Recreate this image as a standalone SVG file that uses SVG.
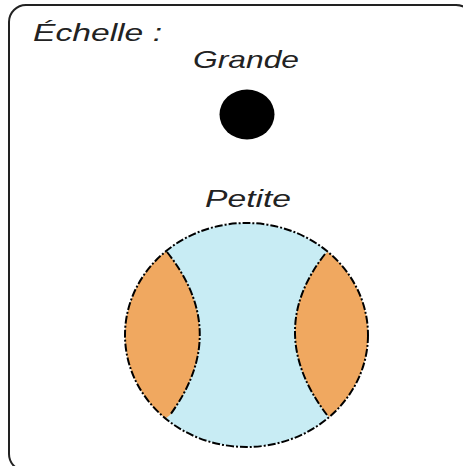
<svg xmlns="http://www.w3.org/2000/svg" width="463" height="466" viewBox="0 0 463 466">
<style>
.lbl{font-family:"Liberation Sans",Arial,sans-serif;font-style:italic;font-size:24px;fill:#222}
.dash{fill:none;stroke:#000;stroke-width:2;stroke-dasharray:8 2 2 2}
</style>
<defs>
<clipPath id="ballClip"><ellipse cx="246.5" cy="335" rx="121.5" ry="112"/></clipPath>
</defs>
<rect x="9" y="5" width="464" height="466" rx="17" fill="#fff" stroke="#222" stroke-width="2"/>
<text class="lbl" x="33" y="41" textLength="129" lengthAdjust="spacingAndGlyphs">Échelle :</text>
<g id="grande">
<text class="lbl" x="246" y="68" text-anchor="middle" textLength="106" lengthAdjust="spacingAndGlyphs">Grande</text>
<ellipse cx="247" cy="114.5" rx="27.5" ry="25" fill="#000"/>
</g>
<g id="petite">
<text class="lbl" x="248" y="207" text-anchor="middle" textLength="86" lengthAdjust="spacingAndGlyphs">Petite</text>
<ellipse cx="246.5" cy="335" rx="121.5" ry="112" fill="#c8ecf4"/>
<g clip-path="url(#ballClip)">
<path d="M100,200 L167,252 Q231,332 170,415 L100,470 Z" fill="#f0a860"/>
<path d="M400,200 L325,254 Q264,332 327,415 L400,470 Z" fill="#f0a860"/>
<path class="dash" d="M167,252 Q231,332 170,415"/>
<path class="dash" d="M325,254 Q264,332 327,415"/>
</g>
<ellipse class="dash" cx="246.5" cy="335" rx="121.5" ry="112"/>
</g>
</svg>
